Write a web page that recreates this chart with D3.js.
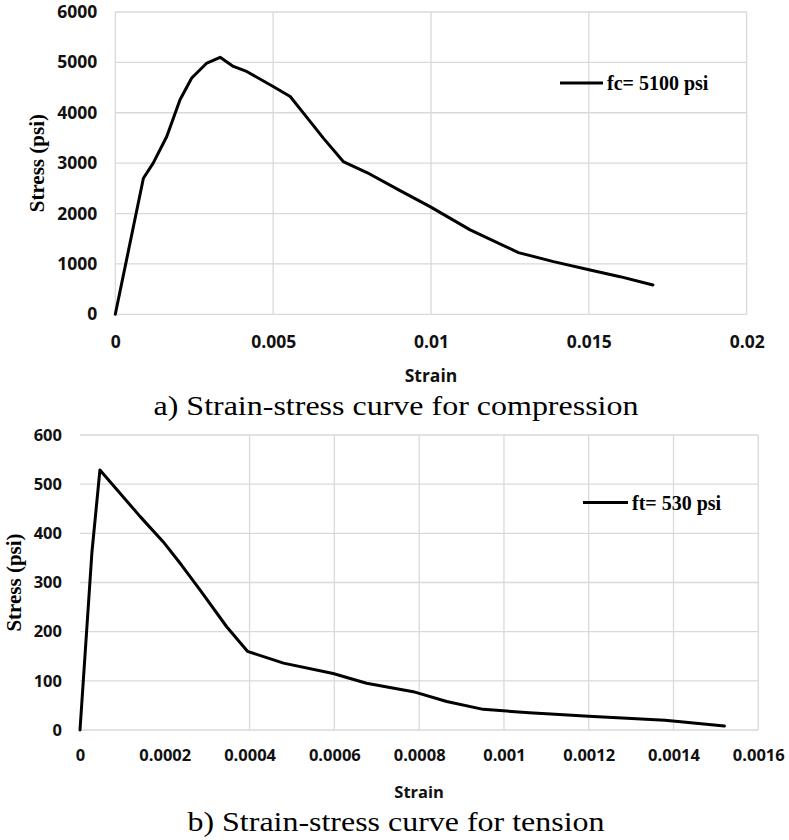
<!DOCTYPE html>
<html lang="en">
<head>
<meta charset="utf-8">
<title>Strain-stress curves</title>
<script src="https://d3js.org/d3.v7.min.js"></script>
<style>
  body { margin: 0; background: #fff; }
  .tick text { font-family: "Open Sans", sans-serif; font-weight: 700; fill: #111; }
  .ttl { font-family: "Liberation Serif", "Times New Roman", Times, serif; font-weight: 700; fill: #000; }
  .cap { font-family: "Liberation Serif", "Times New Roman", Times, serif; font-weight: 400; fill: #000; }
  .axname { font-family: "Open Sans", sans-serif; font-weight: 700; fill: #111; }
</style>
</head>
<body>
<script>
// compression curve (a)
var compStrain = [0, 0.00089, 0.0012, 0.00163, 0.00205, 0.00242, 0.0029, 0.00332, 0.00374, 0.00416,
                  0.005, 0.00554, 0.00596, 0.00659, 0.00722, 0.00797, 0.00902, 0.00997, 0.01124,
                  0.01277, 0.01388, 0.01504, 0.01599, 0.01703];
var compStress = [0, 2700, 3000, 3530, 4258, 4690, 4987, 5100, 4920, 4820,
                  4522, 4324, 3993, 3497, 3032, 2814, 2456, 2138, 1675,
                  1224, 1045, 880, 747, 582];
var compXTicks = [0, 0.005, 0.01, 0.015, 0.02];
var compYTicks = [0, 1000, 2000, 3000, 4000, 5000, 6000];
var compXGrid = [0, 0.005, 0.01, 0.015, 0.02];

// tension curve (b)
var tenStrain = [0, 0.000028, 0.000047, 0.000142, 0.000196, 0.000239, 0.000283, 0.000346, 0.000395,
                 0.00048, 0.000597, 0.000676, 0.000786, 0.000865, 0.000951, 0.00106, 0.0012,
                 0.00138, 0.00152];
var tenStress = [0, 360, 529, 434, 383, 336, 285, 210, 160,
                 136, 115, 95, 78, 58, 42, 35, 28, 20, 8];
var tenXTicks = [0, 0.0002, 0.0004, 0.0006, 0.0008, 0.001, 0.0012, 0.0014, 0.0016];
var tenYTicks = [0, 100, 200, 300, 400, 500, 600];
var tenXGrid = [0.0004, 0.0006, 0.0008, 0.001, 0.0012, 0.0014, 0.0016];

var svg = d3.select("body").append("svg")
    .attr("width", 789)
    .attr("height", 840);

var fmt = d3.format("~g");

function panel(p) {
  var x = d3.scaleLinear().domain(p.xDom).range([p.left, p.right]);
  var y = d3.scaleLinear().domain(p.yDom).range([p.bottom, p.top]);
  var g = svg.append("g");

  // horizontal grid
  g.selectAll(".hg").data(p.yTicks).enter().append("line")
    .attr("x1", p.left).attr("x2", p.right)
    .attr("y1", function(d) { return y(d); })
    .attr("y2", function(d) { return y(d); })
    .attr("stroke", "#d9d9d9").attr("stroke-width", 1.3);
  // vertical grid
  g.selectAll(".vg").data(p.xGrid).enter().append("line")
    .attr("y1", p.top).attr("y2", p.bottom)
    .attr("x1", function(d) { return x(d); })
    .attr("x2", function(d) { return x(d); })
    .attr("stroke", "#d9d9d9").attr("stroke-width", 1.3);

  var ya = g.append("g").attr("transform", "translate(" + p.left + ",0)")
    .call(d3.axisLeft(y).tickValues(p.yTicks).tickFormat(fmt).tickSize(0).tickPadding(18));
  ya.select(".domain").remove();
  ya.selectAll("text").style("font-size", p.fs + "px");

  var xa = g.append("g").attr("transform", "translate(0," + p.bottom + ")")
    .call(d3.axisBottom(x).tickValues(p.xTicks).tickFormat(fmt).tickSize(0).tickPadding(p.xPad));
  xa.select(".domain").remove();
  xa.selectAll("text").style("font-size", p.fs + "px");

  var pts = p.sx.map(function(s, i) { return [s, p.sy[i]]; });
  g.append("path").datum(pts)
    .attr("fill", "none").attr("stroke", "#000").attr("stroke-width", 3)
    .attr("stroke-linejoin", "round").attr("stroke-linecap", "round")
    .attr("d", d3.line().x(function(d) { return x(d[0]); }).y(function(d) { return y(d[1]); }));

  // legend
  g.append("line").attr("x1", p.legX1).attr("x2", p.legX2)
    .attr("y1", p.legY).attr("y2", p.legY)
    .attr("stroke", "#000").attr("stroke-width", 3);
  g.append("text").attr("class", "ttl").attr("x", p.legX2 + 4).attr("y", p.legY + 7)
    .style("font-size", "20px").text(p.legend);

  g.append("text").attr("class", "ttl")
    .attr("transform", "translate(" + p.ytX + "," + ((p.top + p.bottom) / 2) + ") rotate(-90)")
    .attr("text-anchor", "middle").attr("dy", "0.35em")
    .style("font-size", "21px").text("Stress (psi)");

  g.append("text").attr("class", "axname")
    .attr("x", (p.left + p.right) / 2).attr("y", p.xtY)
    .attr("text-anchor", "middle").attr("dy", "0.35em")
    .style("font-size", p.fs + "px").text("Strain");

  g.append("text").attr("class", "cap")
    .attr("x", 396).attr("y", p.capY).attr("text-anchor", "middle")
    .attr("textLength", p.capW).attr("lengthAdjust", "spacingAndGlyphs")
    .style("font-size", "28px").text(p.caption);
}

panel({
  sx: compStrain, sy: compStress, xTicks: compXTicks, yTicks: compYTicks, xGrid: compXGrid,
  xDom: [0, 0.02], yDom: [0, 6000],
  left: 115.3, right: 746.7, top: 12, bottom: 314.3,
  fs: 17.5, xPad: 21, xtY: 376, ytX: 37,
  legX1: 560, legX2: 603, legY: 83, legend: "fc= 5100 psi",
  capY: 415, capW: 485, caption: "a) Strain-stress curve for compression"
});

panel({
  sx: tenStrain, sy: tenStress, xTicks: tenXTicks, yTicks: tenYTicks, xGrid: tenXGrid,
  xDom: [0, 0.0016], yDom: [0, 600],
  left: 80, right: 758.3, top: 435, bottom: 730,
  fs: 16.5, xPad: 19, xtY: 792, ytX: 14,
  legX1: 583, legX2: 628, legY: 502.5, legend: "ft= 530 psi",
  capY: 831, capW: 417, caption: "b) Strain-stress curve for tension"
});
</script>
</body>
</html>
